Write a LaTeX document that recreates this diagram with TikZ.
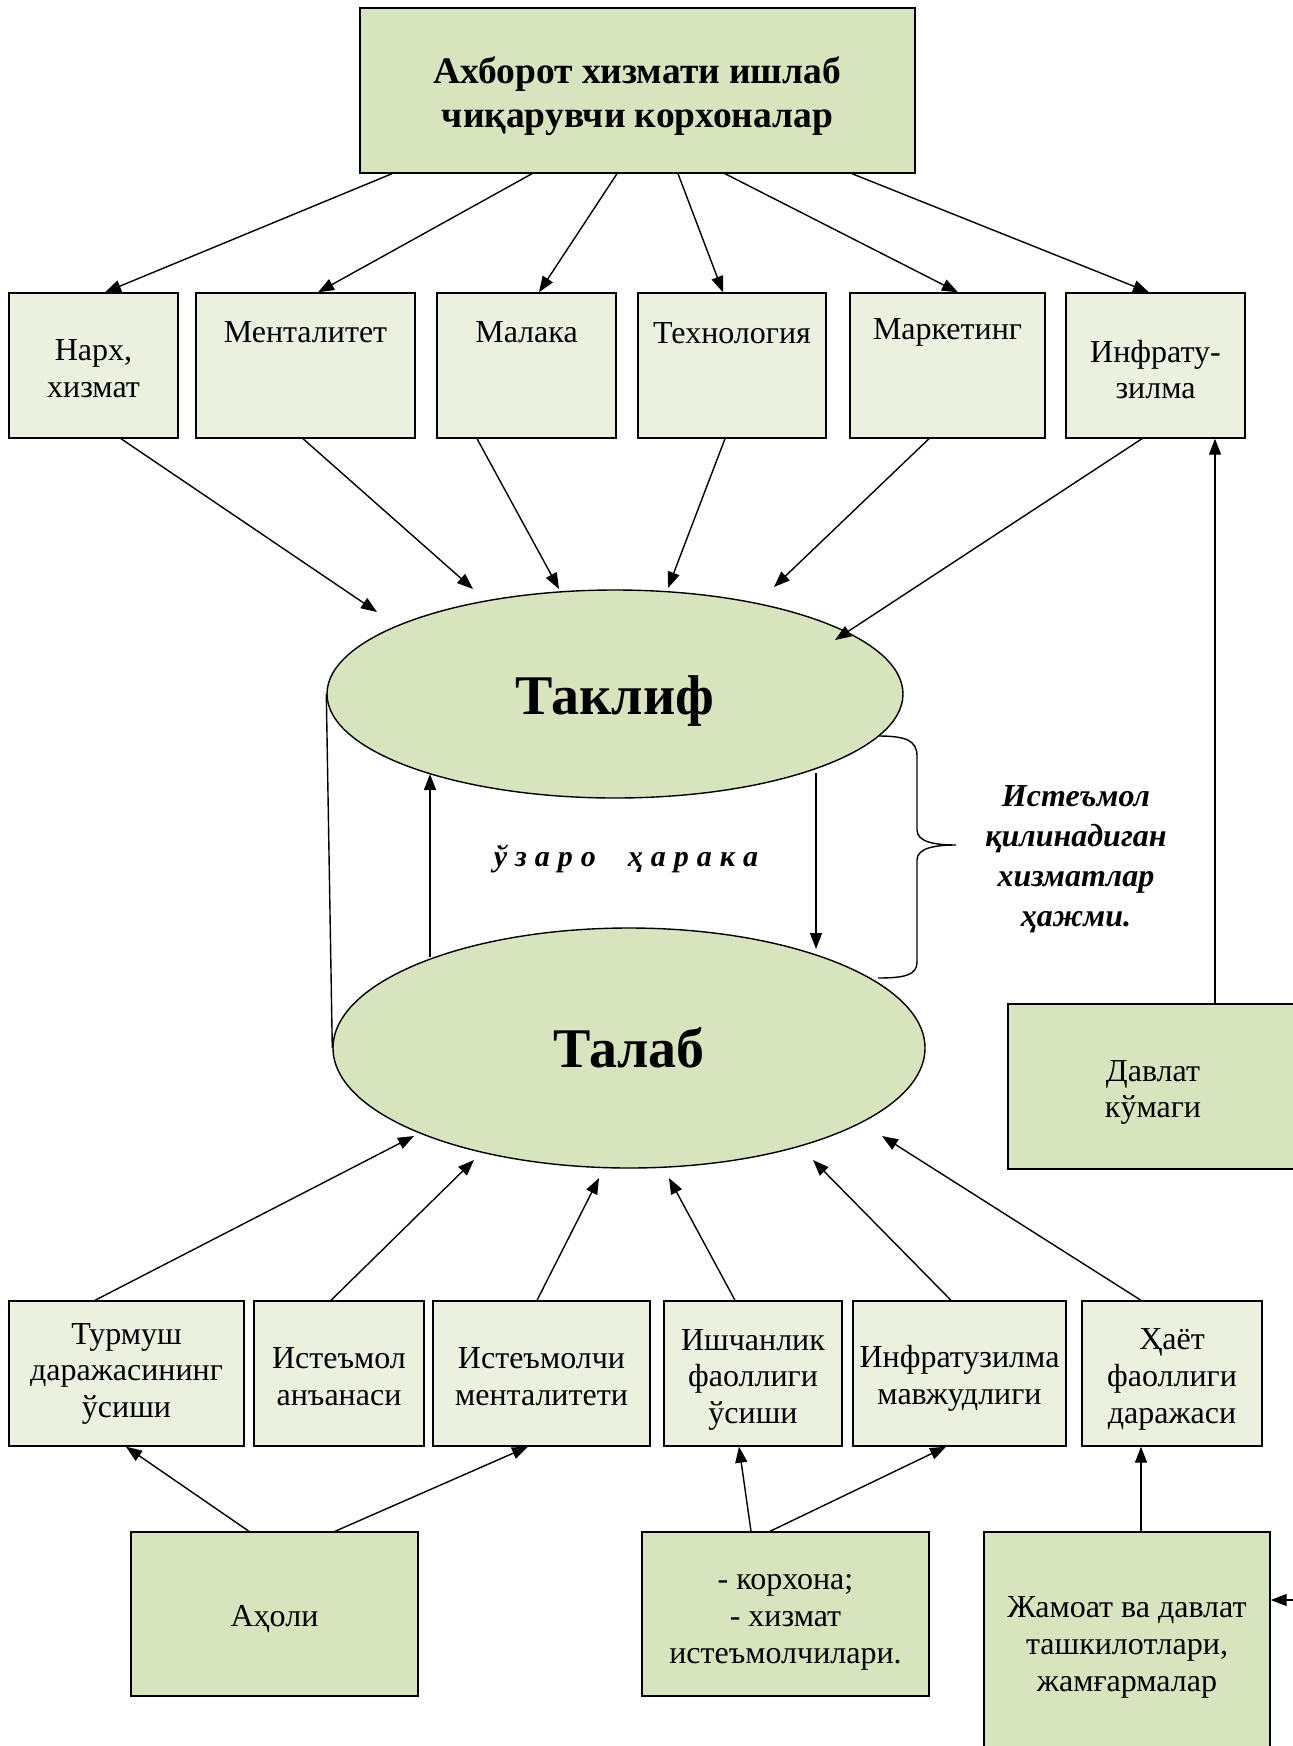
\documentclass[tikz,border=0pt]{standalone}
\usepackage{fontspec}
\setmainfont{Liberation Serif}
\usetikzlibrary{arrows.meta,shapes.geometric}
\definecolor{dk}{HTML}{D7E4BD}
\definecolor{lt}{HTML}{EBF1DE}
\begin{document}
\begin{tikzpicture}[x=1pt,y=-1pt,
  bx/.style 2 args={draw=black, line width=1.4pt, minimum width=#1, minimum height=#2, inner sep=2pt},
  light/.style={fill=lt}, dark/.style={fill=dk},
  tx/.style={align=center, font=\fontsize{32}{36.5}\selectfont},
  tl/.style={anchor=base, font=\fontsize{32}{36.5}\selectfont},
  ell/.style 2 args={ellipse, draw=black, line width=1.4pt, fill=dk, inner sep=0pt,
     minimum width=#1, minimum height=#2, font=\bfseries\fontsize{56}{60}\selectfont},
  arr/.style={line width=1.4pt, -{Triangle[length=16pt,width=12pt]}},
  ln/.style={line width=1.4pt}]
\useasboundingbox (0,0) rectangle (1293,1746);
\fill[white] (0,0) rectangle (1293,1746);
\clip (0,0) rectangle (1293,1746);

% top
\node[bx={555pt}{165pt}, dark, label={[tx, font=\bfseries\fontsize{37.5}{44}\selectfont, yshift=-6pt]center:{Ахборот хизмати ишлаб\\чиқарувчи корхоналар}}] (top) at (637.5,90.5) {};

% second row
\node[bx={169pt}{145pt}, light, label={[tx, yshift=-3pt]center:{Нарх,\\хизмат}}] (n1) at (93.5,365.5) {};
\node[bx={219pt}{145pt}, light, label={[tl, label distance=-50pt]north:Менталитет}] (n2) at (305.5,365.5) {};
\node[bx={179pt}{145pt}, light, label={[tl, label distance=-50pt]north:Малака}] (n3) at (526.5,365.5) {};
\node[bx={188pt}{145pt}, light, label={[tl, label distance=-51pt]north:Технология}] (n4) at (732,365.5) {};
\node[bx={195pt}{145pt}, light, label={[tl, label distance=-47pt]north:Маркетинг}] (n5) at (947.5,365.5) {};
\node[bx={179pt}{145pt}, light, label={[tx, yshift=-4pt]center:{Инфрату-\\зилма}}] (n6) at (1155.5,365.5) {};

% ellipses
\node[ell={576pt}{208pt}, text height=52pt, text depth=12pt] (tak) at (615,694) {Таклиф};
\node[ell={592pt}{240pt}] (tal) at (629,1048) {Талаб};

% state support
\node[bx={290pt}{165pt}, dark, label={[tx, yshift=-6pt]center:{Давлат\\кўмаги}}] (dav) at (1153,1086.5) {};

% bottom row
\node[bx={235pt}{145pt}, light, label={[tx, yshift=0pt]center:{Турмуш\\даражасининг\\ўсиши}}] (m1) at (126.5,1373.5) {};
\node[bx={170pt}{145pt}, light, label={[tx, yshift=-3pt]center:{Истеъмол\\анъанаси}}] (m2) at (339,1373.5) {};
\node[bx={217pt}{145pt}, light, label={[tx, yshift=-3pt]center:{Истеъмолчи\\менталитети}}] (m3) at (541.5,1373.5) {};
\node[bx={178pt}{145pt}, light, label={[tx, yshift=-6pt]center:{Ишчанлик\\фаоллиги\\ўсиши}}] (m4) at (753,1373.5) {};
\node[bx={213pt}{145pt}, light, label={[tx, yshift=-5pt]center:{Инфратузилма\\мавжудлиги}}] (m5) at (959.5,1373.5) {};
\node[bx={180pt}{145pt}, light, label={[tx, font=\fontsize{32}{37}\selectfont, yshift=-6pt]center:{Ҳаёт\\фаоллиги\\даражаси}}] (m6) at (1172,1373.5) {};

% sources
\node[bx={287pt}{164pt}, dark, label={[tx, yshift=-5pt]center:{Аҳоли}}] (aho) at (274.5,1614) {};
\node[bx={287pt}{164pt}, dark, label={[tx, font=\fontsize{32}{37}\selectfont, yshift=-8pt]center:{- корхона;\\- хизмат\\истеъмолчилари.}}] (kor) at (785.5,1614) {};
\node[bx={286pt}{224pt}, dark, label={[tx, font=\fontsize{32}{37}\selectfont, yshift=-3pt]center:{Жамоат ва давлат\\ташкилотлари,\\жамғармалар}}] (jam) at (1127,1644) {};

% labels
\node[font=\bfseries\itshape\fontsize{30}{36}\selectfont] (uz) at (626,859)
  {ў\kern8pt з\kern8pt а\kern8pt р\kern8pt о\hspace{32pt}ҳ\kern8pt а\kern8pt р\kern8pt а\kern8pt к\kern8pt а};
\node[font=\bfseries\itshape\fontsize{32}{40}\selectfont, align=center] (vol) at (1076,859)
  {Истеъмол\\қилинадиган\\хизматлар\\ҳажми.};

% top arrows
\draw[arr] (392,0 |- top.south) -- (105,0 |- n1.north);
\draw[arr] (532,0 |- top.south) -- (318,0 |- n2.north);
\draw[arr] (617,0 |- top.south) -- (539,0 |- n3.north);
\draw[arr] (678,0 |- top.south) -- (723,0 |- n4.north);
\draw[arr] (725,0 |- top.south) -- (958,0 |- n5.north);
\draw[arr] (852,0 |- top.south) -- (1149,0 |- n6.north);

% second row to Taklif
\coordinate (t1) at (377,612);
\coordinate (t2) at (473,589);
\coordinate (t3) at (559,589);
\coordinate (t4) at (668,588);
\coordinate (t5) at (774,587);
\coordinate (t6) at (835,640);
\draw[arr] (121,0 |- n1.south) -- (t1);
\draw[arr] (303,0 |- n2.south) -- (t2);
\draw[arr] (477,0 |- n3.south) -- (t3);
\draw[arr] (725,0 |- n4.south) -- (t4);
\draw[arr] (929,0 |- n5.south) -- (t5);
\draw[arr] (1142,0 |- n6.south) -- (t6);

% cylinder side and interaction
\draw[ln] (tak.west) -- (tal.west);
\coordinate (ua) at (430,957);
\coordinate (ub) at (430,774);
\draw[arr] (ua) -- (ub);
\coordinate (da) at (816,773);
\coordinate (db) at (816,949);
\draw[arr] (da) -- (db);

% brace
\coordinate (br1) at (878,736);
\coordinate (br2) at (878,978);
\coordinate (brt) at (956,845);
\draw[ln] (br1) .. controls (905,736) and (917,740) .. (917,756) -- (917,830)
  .. controls (917,842) and (935,845) .. (brt)
  .. controls (935,845) and (917,848) .. (917,860) -- (917,962)
  .. controls (917,975) and (905,978) .. (br2);

% state support arrow
\draw[arr] (1215,0 |- dav.north) -- (1215,0 |- n6.south);

% bottom row to Talab
\coordinate (s1) at (414,1136);
\coordinate (s2) at (474,1160);
\coordinate (s3) at (599,1178);
\coordinate (s4) at (669,1178);
\coordinate (s5) at (813,1160);
\coordinate (s6) at (882,1136);
\draw[arr] (95,0 |- m1.north) -- (s1);
\draw[arr] (331,0 |- m2.north) -- (s2);
\draw[arr] (537,0 |- m3.north) -- (s3);
\draw[arr] (735,0 |- m4.north) -- (s4);
\draw[arr] (951,0 |- m5.north) -- (s5);
\draw[arr] (1141,0 |- m6.north) -- (s6);

% sources to bottom row
\draw[arr] (249,0 |- aho.north) -- (126,0 |- m1.south);
\draw[arr] (335,0 |- aho.north) -- (528,0 |- m3.south);
\draw[arr] (751,0 |- kor.north) -- (739,0 |- m4.south);
\draw[arr] (770,0 |- kor.north) -- (946,0 |- m5.south);
\draw[arr] (1141,0 |- jam.north) -- (1141,0 |- m6.south);

% incoming arrow at right edge
\coordinate (rin) at (1296,1600);
\draw[arr] (rin) -- (rin -| jam.east);
\end{tikzpicture}
\end{document}
